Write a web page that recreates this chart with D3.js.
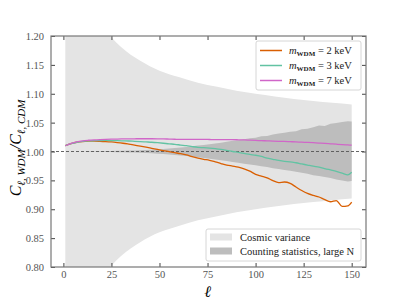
<!DOCTYPE html>
<html>
<head>
<meta charset="utf-8">
<script src="https://cdn.jsdelivr.net/npm/d3@7"></script>
<style>
  body { margin: 0; background: #fff; }
  svg text { font-family: "Liberation Serif", "Times New Roman", serif; }
</style>
</head>
<body>
<div id="chart"></div>
<script>
// multipole grid used by the model curves and the counting-statistics band
const ell = [1,4,7,10,13,16,19,22,25,28,31,34,37,40,43,46,49,52,55,58,61,64,67,70,73,76,79,82,85,88,
             91,94,97,100,103,106,109,112,115,118,121,124,127,130,133,136,139,142,145,148,150];

const ratio2keV = [1.010,1.0135,1.016,1.0172,1.0178,1.0180,1.0177,1.0172,1.0165,1.0155,1.0143,1.0128,1.0112,1.0094,1.0075,1.0055,1.0035,1.0015,0.9998,0.9980,
                   0.9962,0.9940,0.9910,0.9885,0.9865,0.9848,0.9822,0.9792,0.9765,0.9748,0.9730,0.9700,0.9660,0.9605,0.9575,0.9545,0.9495,0.9462,0.9472,0.9448,
                   0.9385,0.9325,0.9275,0.9240,0.9212,0.9165,0.9130,0.9150,0.9050,0.9060,0.9125];
const ratio3keV = [1.010,1.0135,1.016,1.0175,1.0183,1.0187,1.0190,1.0191,1.0190,1.0188,1.0185,1.0182,1.0177,1.0172,1.0166,1.0160,1.0152,1.0143,1.0133,1.0125,
                   1.0112,1.0100,1.0085,1.0072,1.0066,1.0058,1.0048,1.0035,1.0018,1.0000,0.9985,0.9968,0.9950,0.9935,0.9915,0.9885,0.9865,0.9845,0.9830,0.9822,
                   0.9805,0.9785,0.9765,0.9745,0.9728,0.9705,0.9680,0.9655,0.9625,0.9595,0.9640];
const ratio7keV = [1.010,1.014,1.0168,1.0185,1.0195,1.0202,1.0207,1.0211,1.0214,1.0216,1.0218,1.0219,1.0220,1.0221,1.0221,1.0221,1.0220,1.0218,1.0215,1.0212,
                   1.0210,1.0210,1.0211,1.0211,1.0210,1.0208,1.0206,1.0205,1.0205,1.0205,1.0203,1.0200,1.0196,1.0192,1.0188,1.0184,1.0180,1.0177,1.0174,1.0170,
                   1.0166,1.0161,1.0157,1.0152,1.0146,1.0140,1.0133,1.0126,1.0120,1.0114,1.0110];

const countUpper = [1.000,1.000,1.000,1.0002,1.0003,1.0004,1.0005,1.0007,1.0009,1.0011,1.0013,1.0016,1.0019,1.0023,1.0027,1.0032,1.0038,1.0045,1.0052,1.0060,
                    1.0068,1.0078,1.0090,1.0102,1.0112,1.0125,1.0140,1.0152,1.0168,1.0185,1.0195,1.0210,1.0228,1.0240,1.0262,1.0270,1.0295,1.0310,1.0325,1.0340,
                    1.0350,1.0385,1.0395,1.0420,1.0450,1.0440,1.0480,1.0495,1.0510,1.0525,1.0520];
const countLower = [1.000,1.000,1.000,0.9998,0.9997,0.9996,0.9995,0.9993,0.9991,0.9989,0.9987,0.9984,0.9981,0.9977,0.9973,0.9968,0.9962,0.9955,0.9948,0.9940,
                    0.9930,0.9920,0.9912,0.9900,0.9888,0.9875,0.9862,0.9850,0.9835,0.9818,0.9805,0.9790,0.9775,0.9760,0.9745,0.9730,0.9712,0.9695,0.9680,0.9668,
                    0.9650,0.9630,0.9615,0.9590,0.9575,0.9560,0.9540,0.9515,0.9500,0.9480,0.9490];

// cosmic variance half-width
const cvEll  = [1,2,3,5,8,10,15,20,25,30,40,50,60,70,80,90,100,110,120,130,140,150];
const cvHalf = [0.816,0.632,0.535,0.426,0.343,0.309,0.254,0.221,0.198,0.181,0.157,0.140,0.129,0.119,0.112,0.105,0.0998,0.0952,0.0911,0.0876,0.0844,0.0815];

const xTicks = [0,25,50,75,100,125,150];
const yTicks = [0.80,0.85,0.90,0.95,1.00,1.05,1.10,1.15,1.20];

const series = [
  {mass: "2", values: ratio2keV, color: "#d95f02"},
  {mass: "3", values: ratio3keV, color: "#62c3a3"},
  {mass: "7", values: ratio7keV, color: "#d066c8"}
];

const FONT = "'Liberation Serif', 'Times New Roman', serif";
const W = 407, H = 305;
const M = {left: 51, right: 41, top: 36, bottom: 38};
const iw = W - M.left - M.right, ih = H - M.top - M.bottom;

const svg = d3.select("#chart").append("svg").attr("width", W).attr("height", H)
  .attr("font-family", FONT);
svg.append("defs").append("clipPath").attr("id", "clip")
  .append("rect").attr("width", iw).attr("height", ih);

const g = svg.append("g").attr("transform", `translate(${M.left},${M.top})`);

const x = d3.scaleLinear().domain([-6.45, 157.45]).range([0, iw]);
const y = d3.scaleLinear().domain([0.80, 1.20]).range([ih, 0]);

const plot = g.append("g").attr("clip-path", "url(#clip)");

// cosmic variance band
const cvArea = d3.area().curve(d3.curveMonotoneX)
  .x((d, i) => x(cvEll[i]))
  .y0((d, i) => y(1 - cvHalf[i]))
  .y1((d, i) => y(1 + cvHalf[i]));
plot.append("path").datum(cvEll).attr("d", cvArea).attr("fill", "#e4e4e4");

// counting statistics band
const cntArea = d3.area()
  .x((d, i) => x(ell[i]))
  .y0((d, i) => y(countLower[i]))
  .y1((d, i) => y(countUpper[i]));
plot.append("path").datum(ell).attr("d", cntArea).attr("fill", "#bdbdbd");

// reference line at 1
plot.append("line")
  .attr("x1", 0).attr("x2", iw).attr("y1", y(1)).attr("y2", y(1))
  .attr("stroke", "#555").attr("stroke-width", 0.9).attr("stroke-dasharray", "3,2");

const line = d3.line().curve(d3.curveMonotoneX);
series.forEach(s => {
  plot.append("path")
    .attr("d", line(ell.map((l, i) => [x(l), y(s.values[i])])))
    .attr("fill", "none").attr("stroke", s.color).attr("stroke-width", 1.3);
});

// axes: ticks inward on all four sides
const axB = g.append("g").attr("transform", `translate(0,${ih})`)
  .call(d3.axisBottom(x).tickValues(xTicks).tickSizeInner(-4).tickSizeOuter(0).tickPadding(4));
const axT = g.append("g")
  .call(d3.axisTop(x).tickValues(xTicks).tickSizeInner(-4).tickSizeOuter(0).tickFormat(""));
const axL = g.append("g")
  .call(d3.axisLeft(y).tickValues(yTicks).tickSizeInner(-4).tickSizeOuter(0).tickPadding(7).tickFormat(d3.format(".2f")));
const axR = g.append("g").attr("transform", `translate(${iw},0)`)
  .call(d3.axisRight(y).tickValues(yTicks).tickSizeInner(-4).tickSizeOuter(0).tickFormat(""));
[axB, axT, axL, axR].forEach(a => {
  a.attr("font-family", FONT);
  a.select(".domain").remove();
  a.selectAll("line").attr("stroke", "#444").attr("stroke-width", 1);
  a.selectAll("text").attr("fill", "#555").attr("font-size", 10.5);
});
axL.selectAll("text").attr("dy", "0.34em");

g.append("rect").attr("width", iw).attr("height", ih)
  .attr("fill", "none").attr("stroke", "#777").attr("stroke-width", 1.2);

// axis labels
svg.append("text").attr("x", M.left + x(75)).attr("y", 297)
  .attr("text-anchor", "middle").attr("font-size", 16).attr("font-style", "italic").text("ℓ");

const yl = svg.append("text").attr("transform", "translate(21,148) rotate(-90)")
  .attr("text-anchor", "middle").attr("font-size", 16).attr("font-style", "italic");
yl.append("tspan").text("C");
yl.append("tspan").attr("font-size", 11).attr("dy", 4).text("ℓ, WDM");
yl.append("tspan").attr("dy", -4).text("/C");
yl.append("tspan").attr("font-size", 11).attr("dy", 4).text("ℓ, CDM");

// legend for the models
const lg = svg.append("g").attr("transform", "translate(256,41)");
lg.append("rect").attr("width", 105).attr("height", 49).attr("rx", 2)
  .attr("fill", "#fff").attr("fill-opacity", 0.85).attr("stroke", "#ccc").attr("stroke-width", 0.8);
series.forEach((s, i) => {
  const row = lg.append("g").attr("transform", `translate(0,${9.5 + i * 15})`);
  row.append("line").attr("x1", 4).attr("x2", 26).attr("stroke", s.color).attr("stroke-width", 1.5);
  const t = row.append("text").attr("x", 33).attr("y", 3.5).attr("font-size", 10.5).attr("fill", "#222");
  t.append("tspan").attr("font-style", "italic").text("m");
  t.append("tspan").attr("font-size", 7).attr("font-weight", "bold").attr("dy", 2).text("WDM");
  t.append("tspan").attr("dy", -2).text(` = ${s.mass} keV`);
});

// legend for the bands
const bands = [
  {label: "Cosmic variance", color: "#e4e4e4"},
  {label: "Counting statistics, large N", color: "#bdbdbd"}
];
const lb = svg.append("g").attr("transform", "translate(206,229)");
lb.append("rect").attr("width", 155).attr("height", 32).attr("rx", 2)
  .attr("fill", "#fff").attr("fill-opacity", 0.85).attr("stroke", "#ccc").attr("stroke-width", 0.8);
bands.forEach((b, i) => {
  const row = lb.append("g").attr("transform", `translate(0,${4.5 + i * 14})`);
  row.append("rect").attr("x", 4).attr("width", 22).attr("height", 7).attr("fill", b.color);
  row.append("text").attr("x", 34).attr("y", 7.5).attr("font-size", 10.5).attr("fill", "#222").text(b.label);
});
</script>
</body>
</html>
